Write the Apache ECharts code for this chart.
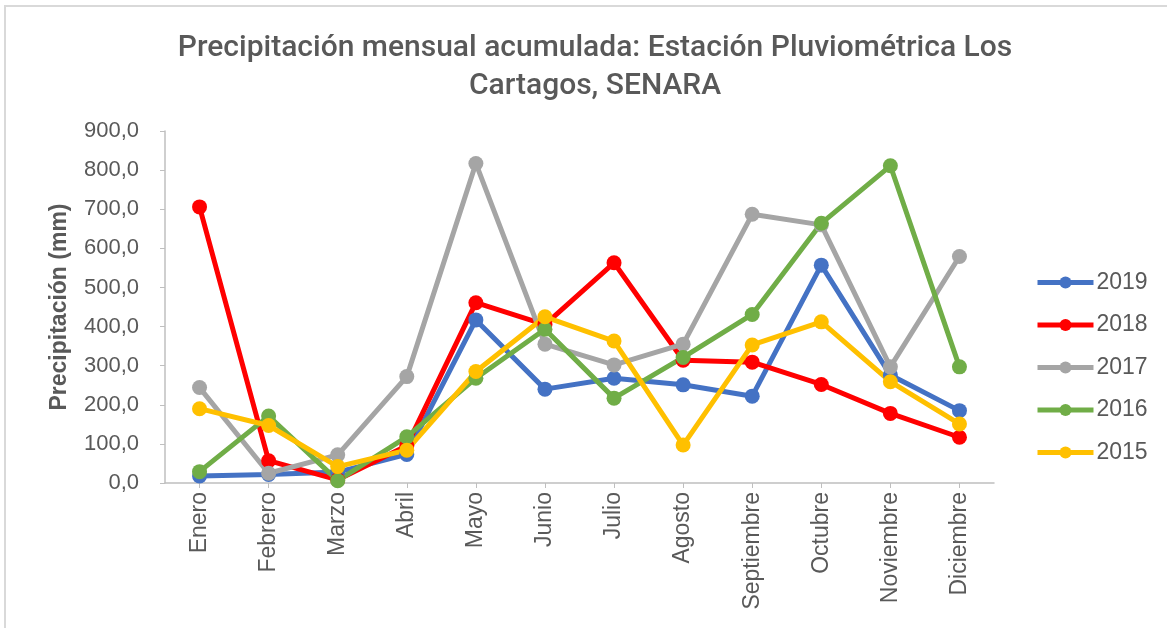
<!DOCTYPE html>
<html>
<head>
<meta charset="utf-8">
<script src="https://cdn.jsdelivr.net/npm/echarts@6/dist/echarts.min.js"></script>
<style>
html,body{margin:0;padding:0;background:#fff;}
#chart{width:1167px;height:628px;}
#frame{position:absolute;left:4px;top:5px;width:1200px;height:700px;border-left:2px solid #d9d9d9;border-top:2px solid #d9d9d9;pointer-events:none;}
</style>
</head>
<body>
<div id="chart"></div>
<div id="frame"></div>
<script>
const months = ['Enero','Febrero','Marzo','Abril','Mayo','Junio','Julio','Agosto','Septiembre','Octubre','Noviembre','Diciembre'];
const s2019 = [18, 22, 28, 73, 417, 240, 268, 251, 222, 557, 276, 185];
const s2018 = [706, 57, 8, 95, 461, 405, 563, 314, 309, 252, 178, 117];
const s2017 = [244, 25, 72, 272, 817, 355, 302, 355, 687, 660, 297, 579];
const s2016 = [29, 171, 6, 118, 268, 393, 217, 321, 431, 664, 811, 297];
const s2015 = [190, 147, 42, 84, 285, 425, 363, 97, 353, 412, 259, 151];
const yTicks = [0, 100, 200, 300, 400, 500, 600, 700, 800, 900];

const seriesDefs = [
  {name:'2019', data:s2019, color:'#4472C4'},
  {name:'2018', data:s2018, color:'#FF0000'},
  {name:'2017', data:s2017, color:'#A5A5A5'},
  {name:'2016', data:s2016, color:'#70AD47'},
  {name:'2015', data:s2015, color:'#FFC000'}
];

const chart = echarts.init(document.getElementById('chart'));
chart.setOption({
  animation:false,
  title:{
    text:'Precipitación mensual acumulada: Estación Pluviométrica Los\nCartagos, SENARA',
    left:590, textAlign:'center', top:24,
    textStyle:{fontFamily:'Roboto', fontWeight:500, fontSize:30, color:'#595959', lineHeight:38}
  },
  legend:{
    orient:'vertical', left:1030, top:266, itemGap:19.5,
    itemWidth:56, itemHeight:15,
    textStyle:{fontFamily:'Liberation Sans', fontSize:23, color:'#595959', padding:[0,0,0,-2]},
    lineStyle:{width:5},
    data: seriesDefs.map(s=>s.name)
  },
  grid:{left:165, right:173, top:131, bottom:145},
  xAxis:{
    type:'category', data:months, boundaryGap:true,
    axisLine:{lineStyle:{color:'#bfbfbf', width:1.5}},
    axisTick:{show:true, alignWithLabel:true, length:5, lineStyle:{color:'#bfbfbf'}},
    axisLabel:{rotate:90, fontFamily:'Liberation Sans', fontSize:23, color:'#595959', margin:9, interval:0}
  },
  yAxis:{
    type:'value', min:0, max:900, interval:100,
    name:'Precipitación (mm)', nameLocation:'middle', nameGap:94,
    nameTextStyle:{fontFamily:'Liberation Sans', fontWeight:'bold', fontSize:23, color:'#595959'},
    axisLine:{show:true, lineStyle:{color:'#bfbfbf', width:1.5}},
    axisTick:{show:true, length:5, lineStyle:{color:'#bfbfbf'}},
    splitLine:{show:false},
    axisLabel:{fontFamily:'Liberation Sans', fontSize:22, color:'#595959', margin:26,
      formatter:v=> yTicks.includes(v) ? v.toFixed(1).replace('.', ',') : ''}
  },
  series: seriesDefs.map(s=>({
    name:s.name, type:'line', data:s.data,
    symbol:'circle', symbolSize:15,
    lineStyle:{width:5, color:s.color},
    itemStyle:{color:s.color},
    emphasis:{disabled:true}
  }))
});
</script>
</body>
</html>
